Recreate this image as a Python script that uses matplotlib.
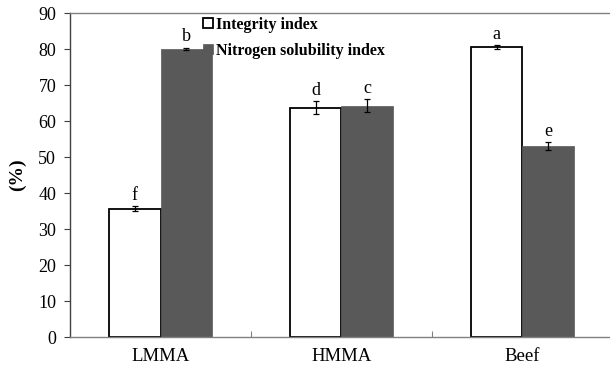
import numpy as np
import matplotlib.pyplot as plt
from matplotlib.ticker import FixedLocator, NullFormatter

plt.rcParams["font.family"] = ["Liberation Serif", "DejaVu Serif"]

categories = ["LMMA", "HMMA", "Beef"]
integrity = [35.6, 63.7, 80.6]
integrity_err = [0.7, 1.8, 0.5]
nsi = [80.0, 64.3, 53.1]
nsi_err = [0.4, 1.9, 1.1]
integrity_letters = ["f", "d", "a"]
nsi_letters = ["b", "c", "e"]

DARK = "#595959"
SPINE = "#808080"

fig = plt.figure(figsize=(6.1, 3.69), dpi=100)
ax = fig.add_axes([0.1148, 0.0867, 0.890, 0.878])

x = np.arange(len(categories))
w = 0.283

ax.bar(x - w / 2, integrity, w, color="white", edgecolor="black",
       linewidth=1.3, label="Integrity index", zorder=2)
ax.bar(x + w / 2, nsi, w, color=DARK, edgecolor=DARK, linewidth=0.5,
       label="Nitrogen solubility index", zorder=2)
ax.errorbar(x - w / 2, integrity, yerr=integrity_err, fmt="none",
            ecolor="black", elinewidth=0.9, capsize=2.5, capthick=0.9, zorder=3)
ax.errorbar(x + w / 2, nsi, yerr=nsi_err, fmt="none",
            ecolor="black", elinewidth=0.9, capsize=2.5, capthick=0.9, zorder=3)

for xi, v, e, t in zip(x - w / 2, integrity, integrity_err, integrity_letters):
    ax.text(xi, v + e + 0.6, t, ha="center", va="bottom", fontsize=13)
for xi, v, e, t in zip(x + w / 2, nsi, nsi_err, nsi_letters):
    ax.text(xi, v + e + 0.6, t, ha="center", va="bottom", fontsize=13)

ax.set_xlim(-0.5, 2.5)
ax.set_ylim(0, 90)
ax.set_yticks(range(0, 91, 10))
ax.set_xticks(x)
ax.set_xticklabels(categories, fontsize=13.5)
ax.xaxis.set_minor_locator(FixedLocator([0.5, 1.5]))
ax.xaxis.set_minor_formatter(NullFormatter())
ax.tick_params(axis="x", which="major", length=0, pad=8)
ax.tick_params(axis="x", which="minor", direction="in", length=4,
               color=SPINE, width=0.8)
ax.tick_params(axis="y", direction="out", length=4, labelsize=13,
               color="#404040", width=0.8, pad=6)
ax.set_ylabel("(%)", fontsize=14, fontweight="bold", labelpad=9)

ax.spines["right"].set_visible(False)
ax.spines["top"].set_color(SPINE)
ax.spines["bottom"].set_color(SPINE)
ax.spines["left"].set_color("#404040")
for s in ["top", "bottom", "left"]:
    ax.spines[s].set_linewidth(1.0)

ax.legend(loc="upper left", bbox_to_anchor=(0.218, 1.033), frameon=False,
          prop={"weight": "bold", "size": 11.5}, handlelength=0.65,
          handleheight=0.65, handletextpad=0.15, labelspacing=0.62)

fig.savefig("out.png", dpi=100)
